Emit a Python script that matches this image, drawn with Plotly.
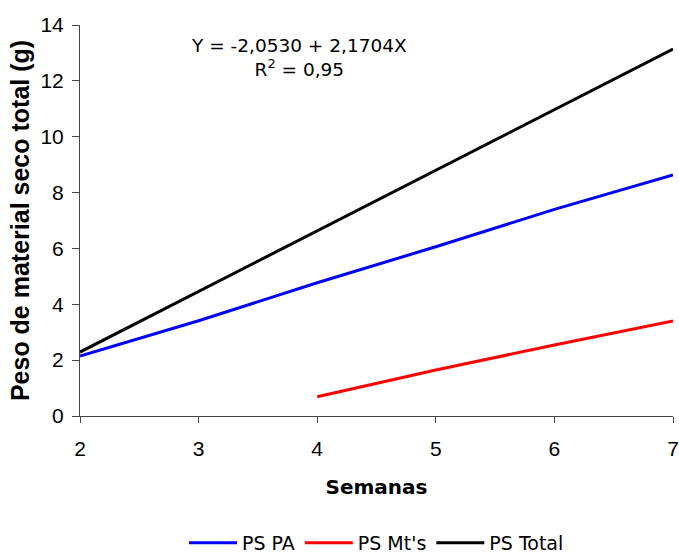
import plotly.graph_objects as go

# Weekly dry matter (g)
semanas = [2, 3, 4, 5, 6, 7]
ps_pa = [2.15, 3.41, 4.77, 6.06, 7.40, 8.63]
semanas_mt = [4, 5, 6, 7]
ps_mt = [0.69, 1.65, 2.54, 3.40]
ps_total = [2.29, 4.46, 6.63, 8.80, 10.97, 13.14]

y_ticks = [0, 2, 4, 6, 8, 10, 12, 14]
x_ticks = [2, 3, 4, 5, 6, 7]

fig = go.Figure()
fig.add_trace(go.Scatter(x=semanas, y=ps_pa, mode="lines", name="PS PA",
                         line=dict(color="#0000FF", width=3)))
fig.add_trace(go.Scatter(x=semanas_mt, y=ps_mt, mode="lines", name="PS Mt's",
                         line=dict(color="#FF0000", width=3)))
# drawn on the overlaid week axis (same scale) so its short tick marks render
fig.add_trace(go.Scatter(x=semanas, y=ps_total, mode="lines", name="PS Total",
                         xaxis="x2", line=dict(color="#000000", width=3)))

# Regression of total dry matter
fig.add_annotation(x=0.37, y=0.98, xref="paper", yref="paper",
                   text="Y = -2,0530 + 2,1704X<br>R<sup>2</sup> = 0,95",
                   showarrow=False, align="center", xanchor="center", yanchor="top",
                   font=dict(family="DejaVu Sans", size=18.5, color="black"))

tick_font = dict(family="Liberation Sans", size=21, color="black")

fig.update_layout(
    width=679, height=554,
    margin=dict(l=80, r=6, t=25, b=138, autoexpand=False),
    plot_bgcolor="white", paper_bgcolor="white",
    showlegend=True,
    legend=dict(orientation="h", x=0.5, xanchor="center",
                yref="container", y=0.02, yanchor="middle",
                font=dict(family="DejaVu Sans", size=19, color="black"),
                itemwidth=48, tracegroupgap=0, traceorder="normal"),
    # week labels sit below a transparent long tick to leave a gap under the axis
    xaxis=dict(range=[2, 7], tickvals=x_ticks, ticks="outside", ticklen=14,
               tickcolor="rgba(0,0,0,0)",
               showline=True, linecolor="#444", linewidth=1, showgrid=False,
               zeroline=False, tickfont=tick_font,
               ticklabeloverflow="allow", automargin=False,
               title=dict(text="<b>Semanas</b>", standoff=20,
                          font=dict(family="DejaVu Sans", size=20, color="black"))),
    # visible short tick marks on the same week scale
    xaxis2=dict(range=[2, 7], overlaying="x", matches="x", side="bottom",
                tickvals=x_ticks, ticks="outside", ticklen=6, tickcolor="#444",
                showticklabels=False, showline=False, showgrid=False,
                zeroline=False, automargin=False),
    yaxis=dict(range=[0, 14], tickvals=y_ticks, ticks="outside", ticklen=7,
               showline=True, linecolor="#444", linewidth=1, showgrid=False,
               zeroline=False, tickfont=tick_font, ticklabelstandoff=4,
               automargin=False,
               title=dict(text="<b>Peso de material seco total (g)</b>", standoff=3,
                          font=dict(family="Liberation Sans", size=25, color="black"))),
)

fig.write_html("out.html")
